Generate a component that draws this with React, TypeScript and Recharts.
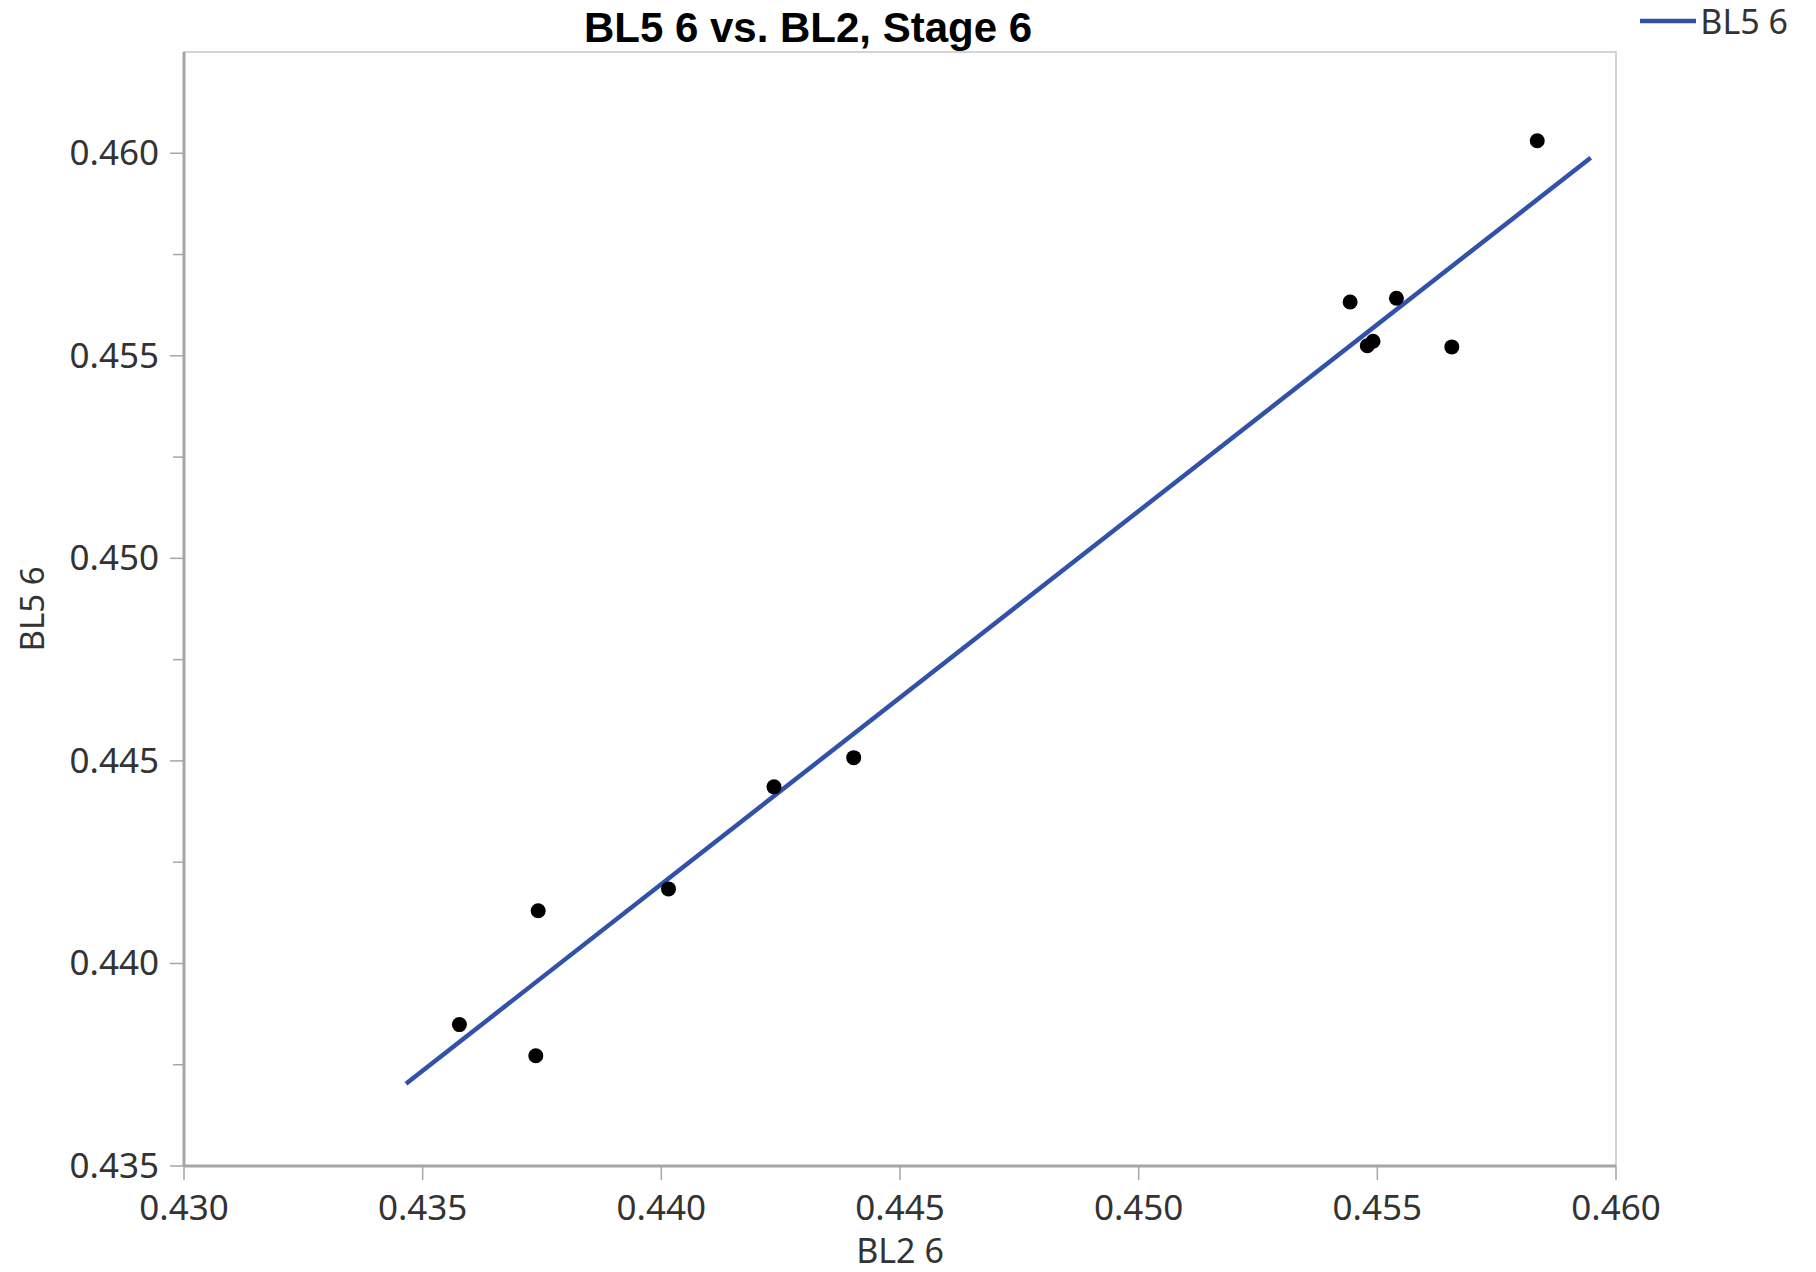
import {
	Label,
	Legend,
	ReferenceArea,
	Scatter,
	ScatterChart,
	XAxis,
	YAxis,
} from "recharts";

const BL2 = [
	0.43577, 0.43737, 0.43742, 0.44015, 0.44236, 0.44403, 0.45443, 0.4554,
	0.45479, 0.45491, 0.45656, 0.45835,
];
const BL5 = [
	0.43849, 0.43772, 0.4413, 0.44184, 0.44436, 0.44508, 0.45633, 0.45642,
	0.45525, 0.45536, 0.45522, 0.46031,
];
const FIT_X = [0.43465, 0.45947];
const FIT_Y = [0.43703, 0.45989];

const X_TICKS = [0.43, 0.435, 0.44, 0.445, 0.45, 0.455, 0.46];
const Y_MAJOR = [0.435, 0.44, 0.445, 0.45, 0.455, 0.46];
const Y_MINOR = [0.4375, 0.4425, 0.4475, 0.4525, 0.4575];

const points = BL2.map((x, i) => ({ x, y: BL5[i] }));
const fit = FIT_X.map((x, i) => ({ x, y: FIT_Y[i] }));
const yTicks = [...Y_MAJOR, ...Y_MINOR].sort((a, b) => a - b);

const FONT = "'Noto Sans', 'Open Sans', sans-serif";
const AXIS = "#a6a6a6";
const TEXT = "#333";
const TICK_FS = 35;

function YTick(props: any) {
	const { x, y, payload } = props;
	const v = payload.value;
	const minor = Y_MINOR.some((m) => Math.abs(m - v) < 1e-9);
	const axisX = x + 11 + 14;
	return (
		<g>
			<line
				x1={minor ? axisX - 11 : axisX - 14}
				x2={axisX}
				y1={y}
				y2={y}
				stroke={AXIS}
				strokeWidth={1.5}
			/>
			{!minor && (
				<text
					x={x}
					y={y}
					dy={12}
					textAnchor="end"
					fill={TEXT}
					fontSize={TICK_FS}
					fontFamily={FONT}
				>
					{v.toFixed(3)}
				</text>
			)}
		</g>
	);
}

function renderLegend(props: any) {
	const items = (props.payload || []).filter((p: any) => p.type !== "none");
	return (
		<div
			style={{
				height: 30,
				display: "flex",
				justifyContent: "flex-end",
				alignItems: "center",
			}}
		>
			{items.map((p: any) => (
				<div
					key={p.value}
					style={{ display: "flex", alignItems: "center" }}
				>
					<svg width={56} height={10}>
						<line x1={0} x2={56} y1={5} y2={5} stroke={p.color} strokeWidth={4.5} />
					</svg>
					<span
						style={{
							marginLeft: 4,
							fontFamily: FONT,
							fontSize: 34,
							color: TEXT,
						}}
					>
						{p.value}
					</span>
				</div>
			))}
		</div>
	);
}

export default function App() {
	return (
		<div style={{ position: "relative", width: 1800, height: 1264 }}>
			<div
				style={{
					position: "absolute",
					left: 0,
					width: 1600,
					top: -4,
					textAlign: "center",
					fontFamily: "'Liberation Sans', Arial, sans-serif",
					fontWeight: 700,
					fontSize: 42,
					color: "#000",
				}}
			>
				BL5 6 vs. BL2, Stage 6
			</div>
			<ScatterChart
				width={1800}
				height={1264}
				margin={{ top: 14, right: 192, bottom: 0, left: 0 }}
			>
				<ReferenceArea
					x1={0.43}
					x2={0.46}
					y1={0.435}
					y2={0.4625}
					fill="#fff"
					fillOpacity={0}
					stroke="#c6c6c6"
					strokeWidth={1.5}
				/>
				<XAxis
					type="number"
					dataKey="x"
					domain={[0.43, 0.46]}
					ticks={X_TICKS}
					height={106}
					tickSize={14}
					tickMargin={15}
					allowDataOverflow
					interval={0}
					tickFormatter={(v: number) => v.toFixed(3)}
					tick={{ fill: TEXT, fontSize: TICK_FS, fontFamily: FONT }}
					axisLine={{ stroke: AXIS, strokeWidth: 3 }}
					tickLine={{ stroke: AXIS, strokeWidth: 1.5 }}
				>
					<Label
						value="BL2 6"
						position="insideBottom"
						offset={9}
						fill={TEXT}
						fontSize={34}
						fontFamily={FONT}
					/>
				</XAxis>
				<YAxis
					type="number"
					dataKey="y"
					domain={[0.435, 0.4625]}
					ticks={yTicks}
					width={176}
					tickSize={14}
					tickMargin={11}
					interval={0}
					allowDataOverflow
					tick={<YTick />}
					tickLine={false}
					axisLine={{ stroke: AXIS, strokeWidth: 3 }}
				>
					<Label
						value="BL5 6"
						position="insideLeft"
						angle={-90}
						offset={24}
						fill={TEXT}
						fontSize={33}
						fontFamily={FONT}
						style={{ textAnchor: "middle" }}
					/>
				</YAxis>
				<Legend
					verticalAlign="top"
					align="right"
					content={renderLegend}
					wrapperStyle={{ top: -2, right: 20, left: "auto", width: "auto" }}
				/>
				<Scatter
					name="BL5 6"
					data={fit}
					fill="#3152a8"
					line={{ stroke: "#3152a8", strokeWidth: 4.5 }}
					shape={() => <g />}
					legendType="line"
					isAnimationActive={false}
				/>
				<Scatter
					name="points"
					data={points}
					fill="#000"
					shape={(p: any) => <circle cx={p.cx} cy={p.cy} r={7.5} fill="#000" />}
					legendType="none"
					isAnimationActive={false}
				/>
			</ScatterChart>
		</div>
	);
}
